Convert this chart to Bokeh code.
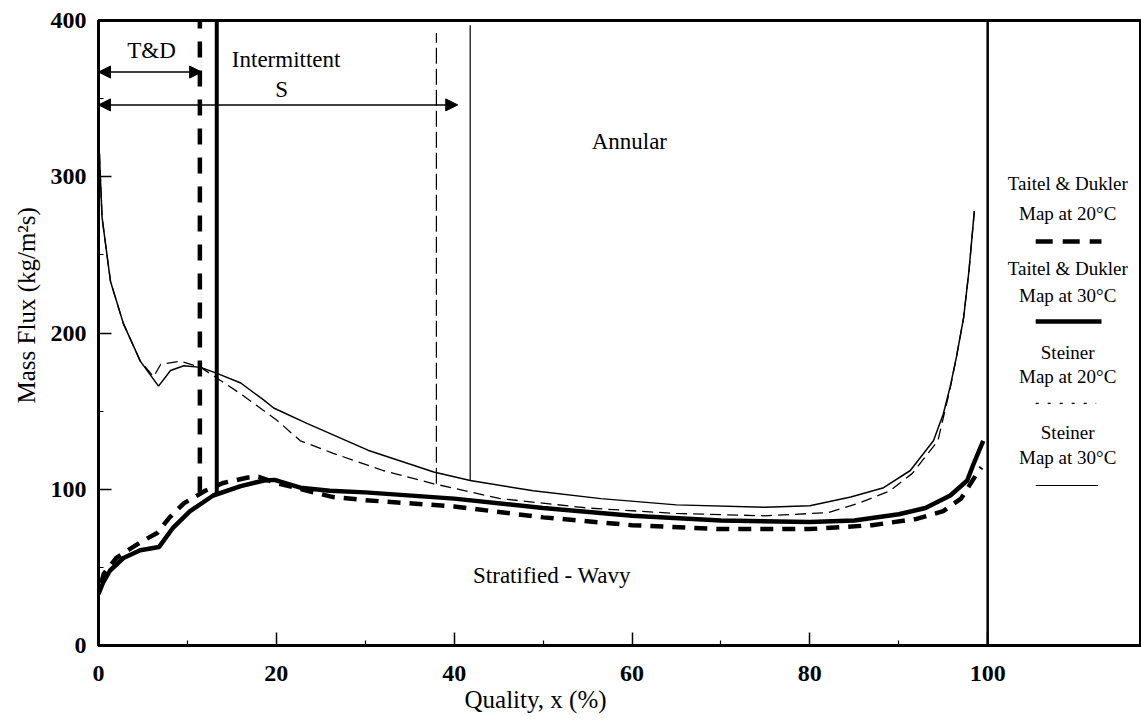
from bokeh.plotting import figure
from bokeh.models import FixedTicker, Range1d, Arrow, NormalHead, Title
from bokeh.embed import file_html
from bokeh.resources import INLINE
from bokeh.core.properties import value

# ---------------- data ----------------
# Taitel & Dukler map at 30 C (thick solid)
td30_x = [0, 0.5, 1.3, 2.8, 4.7, 6.8, 8.4, 10.3, 12.9, 16, 18.6, 19.8, 22.7, 26, 30, 40, 50, 60, 70, 80, 85, 90, 93, 95.8, 97.7, 98.4, 99.5]
td30_y = [33, 40, 48, 56, 61, 63, 75.5, 86, 96, 102, 105.6, 106, 101, 99, 98, 94, 88, 83, 80, 79, 80, 84, 88, 96, 105.6, 116, 131]

# Taitel & Dukler map at 20 C (thick dashed)
td20_x = [0.3, 0.6, 2, 3.6, 5, 6.6, 8, 9.6, 12, 14, 16.8, 18, 20, 23.5, 26.4, 30, 40, 50, 60, 70, 80, 87, 92, 95, 97, 98.9, 99.3]
td20_y = [40, 46, 56, 62, 67, 72, 82, 91, 99, 104, 107.5, 108, 104, 99, 95, 93, 89, 82, 77, 74.5, 74.5, 77, 81, 86, 94, 111, 114]

# Steiner map at 30 C (thin solid)
st30_x = [0.1, 0.4, 1, 1.35, 2.8, 4.7, 6.75, 8.1, 9.6, 11.5, 13.4, 16, 18.6, 19.7, 23.5, 30.3, 37.7, 41.8, 48.9, 56.5, 65, 75, 80, 84.6, 88.3, 91.3, 93.9, 95, 95.8, 96.5, 97.3, 97.9, 98.5]
st30_y = [315, 274, 248, 233, 206, 182, 166, 176, 179, 178, 174, 168, 157, 152, 142, 125, 111, 105.6, 99, 94, 90, 88.5, 89.5, 95, 101, 112, 131, 148, 166, 185, 210, 240, 278]

# Steiner map at 20 C (thin dashed)
st20_x = [0.1, 0.4, 1, 1.35, 2.8, 4.7, 6.2, 7, 9.2, 11.5, 16, 20.1, 22.7, 26.4, 32, 37.7, 45.2, 55, 65, 75, 82, 85.7, 89, 91.5, 94.4, 95.8, 96.5, 97.3, 97.9, 98.5]
st20_y = [315, 274, 248, 233, 206, 182, 172, 180, 182, 178, 161, 144, 131, 123, 112, 103.5, 94, 88, 84.5, 83, 85, 91.5, 99, 110, 131, 165, 185, 210, 240, 278]

# transition boundaries (vertical lines): x position, lower end, upper end
bnd_td20 = [11.4, 98, 400]
bnd_td30 = [13.3, 96, 400]
bnd_st20 = [38.0, 103.5, 392]
bnd_st30 = [41.8, 106, 397]
bnd_x100 = [100.0, 0, 400]

# region extents shown with arrows: start, end, level
arrow_td = [0, 11.6, 367]
arrow_s = [0, 40.4, 346]

x_ticks = [0, 20, 40, 60, 80, 100]
x_minor = [10, 30, 50, 70, 90]
y_ticks = [0, 100, 200, 300, 400]
y_minor = [50, 150, 250, 350]

legend_labels = [("Taitel & Dukler", "Map at 20°C"),
                 ("Taitel & Dukler", "Map at 30°C"),
                 ("Steiner", "Map at 20°C"),
                 ("Steiner", "Map at 30°C")]

# ---------------- figure ----------------
SERIF = "Liberation Serif"
XMAX = 117.3
p = figure(width=1141, height=725, output_backend="svg", toolbar_location=None,
           x_range=Range1d(0, XMAX), y_range=Range1d(0, 400),
           min_border_left=98, min_border_right=0, min_border_top=20, min_border_bottom=80)
p.xgrid.visible = False
p.ygrid.visible = False
p.outline_line_color = "black"
p.outline_line_width = 3
p.background_fill_color = "white"
p.border_fill_color = "white"

for ax in (p.xaxis, p.yaxis):
    ax.axis_line_width = 3
    ax.axis_line_color = "black"
    ax.major_tick_in = 13
    ax.major_tick_out = 0
    ax.minor_tick_in = 5
    ax.minor_tick_out = 0
    ax.major_tick_line_width = 1.5
    ax.minor_tick_line_width = 1.2
    ax.major_label_text_font = SERIF
    ax.major_label_text_font_style = "bold"
    ax.major_label_text_font_size = "24px"
    ax.major_label_text_color = "black"

p.xaxis.major_label_standoff = 20
p.yaxis.major_label_standoff = 12
p.xaxis.ticker = FixedTicker(ticks=x_ticks, minor_ticks=x_minor)
p.yaxis.ticker = FixedTicker(ticks=y_ticks, minor_ticks=y_minor)

# axis titles (placed as titles so they can sit off-centre like the original)
p.add_layout(Title(text="Quality, x (%)", align="left", offset=366, standoff=0,
                   text_font=SERIF, text_font_style="normal", text_font_size="25px",
                   text_color="black"), "below")
p.add_layout(Title(text="Mass Flux (kg/m²s)", align="left", offset=242, standoff=15,
                   text_font=SERIF, text_font_style="normal", text_font_size="25px",
                   text_color="black"), "left")

# curves
p.line(st30_x, st30_y, line_color="black", line_width=1.5)
p.line(st20_x, st20_y, line_color="black", line_width=1.3, line_dash="11 6")
p.line(td30_x, td30_y, line_color="black", line_width=4.5)
p.line(td20_x, td20_y, line_color="black", line_width=4.5, line_dash="13 9")

# boundaries
def vline(b, **kw):
    p.line([b[0], b[0]], [b[1], b[2]], line_color="black", **kw)

vline(bnd_td20, line_width=4.5, line_dash="16 13")
vline(bnd_td30, line_width=4)
vline(bnd_st20, line_width=1.2, line_dash="16 5")
vline(bnd_st30, line_width=1.2)
vline(bnd_x100, line_width=2.5)

# arrows
for a in (arrow_td, arrow_s):
    p.add_layout(Arrow(x_start=a[0], x_end=a[1], y_start=a[2], y_end=a[2],
                       line_width=1.5, line_color="black",
                       start=NormalHead(size=12, fill_color="black", line_color="black"),
                       end=NormalHead(size=12, fill_color="black", line_color="black")))

# region texts
txt = dict(text_font=value(SERIF), text_font_size="23px", text_align="center",
           text_baseline="middle", text_color="black")
p.text(x=[5.96], y=[381], text=["T&D"], **txt)
p.text(x=[21.1], y=[375], text=["Intermittent"], **txt)
p.text(x=[20.6], y=[356], text=["S"], **txt)
p.text(x=[59.7], y=[322.6], text=["Annular"], **txt)
p.text(x=[51], y=[45], text=["Stratified - Wavy"], **txt)

# legend drawn at right
ltxt = dict(text_font=value(SERIF), text_font_size="19px", text_align="center",
            text_baseline="middle", text_color="black")
lx = 109.0
line1_y = [295.7, 241.3, 187.5, 136.3]
line2_y = [276.5, 224.0, 172.2, 120.3]
swatch_y = [258.6, 207.4, 154.9, 102.4]
for (a, b), y1, y2 in zip(legend_labels, line1_y, line2_y):
    p.text(x=[lx], y=[y1], text=[a], **ltxt)
    p.text(x=[lx], y=[y2], text=[b], **ltxt)
sx0, sx1 = 105.4, 112.8
p.line([sx0, sx1], [swatch_y[0]] * 2, line_color="black", line_width=4.5, line_dash="17 10")
p.line([sx0, sx1], [swatch_y[1]] * 2, line_color="black", line_width=4.5)
p.line([sx0, 112.2], [swatch_y[2]] * 2, line_color="black", line_width=1.2, line_dash="3 9")
p.line([sx0, 112.4], [swatch_y[3]] * 2, line_color="black", line_width=1.2)

open("out.html", "w").write(file_html(p, INLINE))
